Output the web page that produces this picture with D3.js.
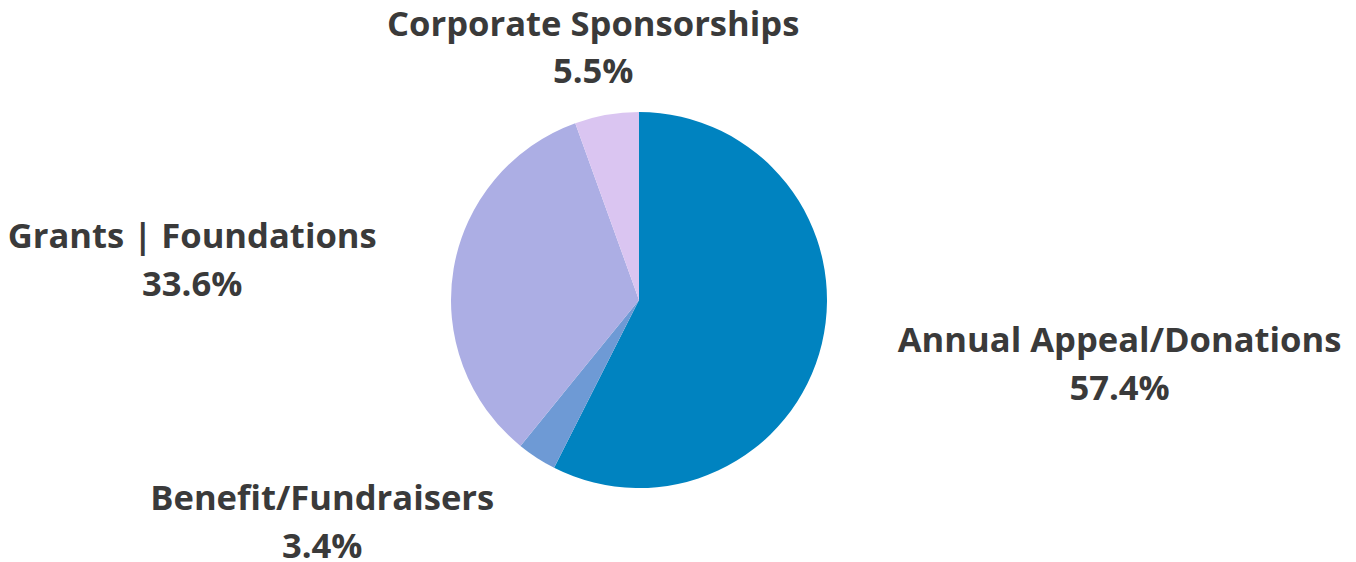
<!DOCTYPE html>
<html><head><meta charset="utf-8">
<script src="https://cdn.jsdelivr.net/npm/d3@7"></script>
<style>html,body{margin:0;padding:0;background:#fff;}svg{display:block;}</style>
</head><body>
<svg id="chart" width="1356" height="562"></svg>
<script>
const categories = ["Annual Appeal/Donations", "Benefit/Fundraisers", "Grants | Foundations", "Corporate Sponsorships"];
const values = [57.4, 3.4, 33.6, 5.5];
const colors = ["#0083c0", "#6e9ad5", "#acaee4", "#dac5f1"];

const cx = 639, cy = 300, r = 188, labelRx = 266, labelRy = 260;
const fontSize = 34.6, lineH = 47.5;

const svg = d3.select("#chart");
const g = svg.append("g").attr("transform", `translate(${cx},${cy})`);
const data = categories.map((c, i) => ({name: c, value: values[i], color: colors[i]}));
const pie = d3.pie().value(d => d.value).sort(null);
const arc = d3.arc().innerRadius(0).outerRadius(r);
const arcs = pie(data);

g.selectAll("path").data(arcs).join("path")
  .attr("d", arc).attr("fill", d => d.data.color);

const lab = g.selectAll("text.lab").data(arcs).join("text")
  .attr("class", "lab")
  .attr("font-family", "'Open Sans', sans-serif")
  .attr("font-weight", 700)
  .attr("font-size", fontSize)
  .attr("fill", "#3a3a3a")
  .each(function(d) {
    const a = (d.startAngle + d.endAngle) / 2;
    const x = Math.sin(a) * labelRx, y = -Math.cos(a) * labelRy - 8;
    const anchor = Math.abs(Math.sin(a)) < 0.3 ? "middle" : (x > 0 ? "start" : "end");
    const t = d3.select(this).attr("text-anchor", anchor);
    t.append("tspan").attr("class", "nm").attr("x", x).attr("y", y).text(d.data.name);
    t.append("tspan").attr("class", "pct").attr("y", y + lineH).text(d.data.value.toFixed(1) + "%");
  });

// center the percentage under the name line
lab.each(function() {
  const t = d3.select(this);
  const bb = t.select("tspan.nm").node().getBBox();
  const mid = bb.x + bb.width / 2;
  const pct = t.select("tspan.pct");
  const pw = pct.node().getComputedTextLength();
  const anchor = t.attr("text-anchor");
  const px = anchor === "start" ? mid - pw / 2 : anchor === "end" ? mid + pw / 2 : mid;
  pct.attr("x", px);
});
</script>
</body></html>
